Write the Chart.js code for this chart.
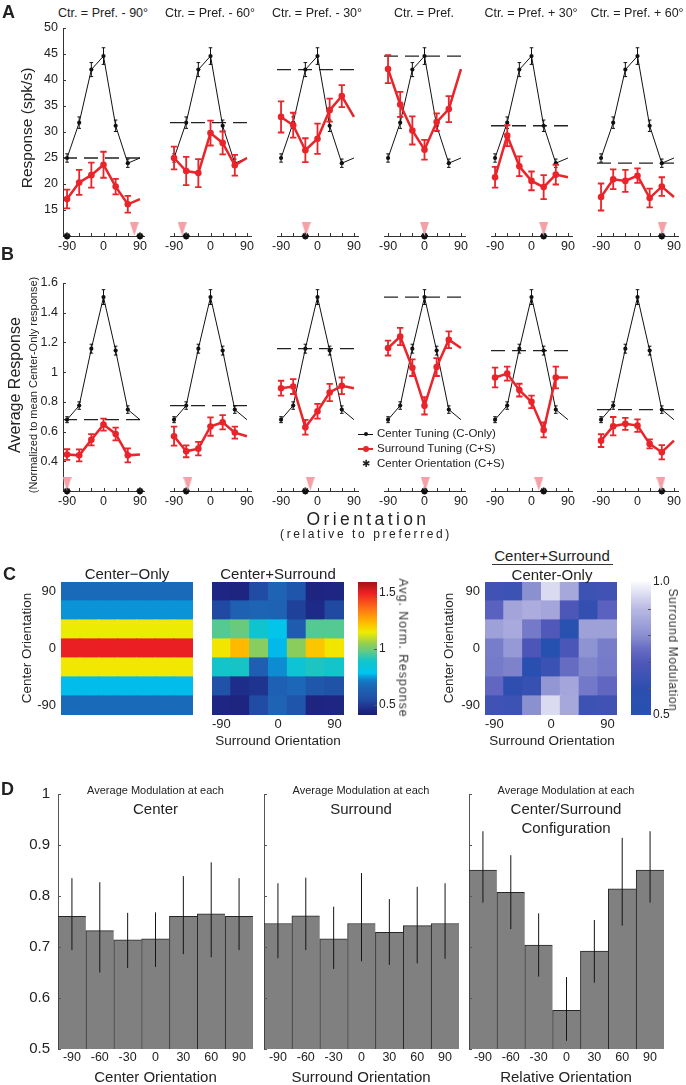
<!DOCTYPE html>
<html>
<head>
<meta charset="utf-8">
<script src="https://cdn.jsdelivr.net/npm/chart.js@4.4.1/dist/chart.umd.min.js"></script>
<style>
  body { margin: 0; background: #fff; }
  #fig { position: relative; width: 686px; height: 1085px; overflow: hidden;
         font-family: "Liberation Sans", Arial, sans-serif; color: #222; }
  .box { position: absolute; }
  .t { position: absolute; white-space: nowrap; line-height: 1; }
</style>
</head>
<body>
<div id="fig"></div>
<script>
// ---- data ----
const orient = [-90, -60, -30, 0, 30, 60, 90];
const centers = [-90, -60, -30, 0, 30, 60];
const ctrTitles = ['Ctr. = Pref. - 90°', 'Ctr. = Pref. - 60°', 'Ctr. = Pref. - 30°',
                   'Ctr. = Pref.', 'Ctr. = Pref. + 30°', 'Ctr. = Pref. + 60°'];

// panel A (spk/s)
const yTicksA = [15, 20, 25, 30, 35, 40, 45, 50];
const centerA = [25, 31.8, 42, 44.6, 31.2, 24, 25];
const centerErrA = [0.8, 1.1, 1.35, 1.6, 1.1, 0.8, null];
const surroundA = [
  [17.1, 20.3, 21.7, 23.7, 19.5, 16.1, 17.1],
  [25.0, 22.5, 22.1, 29.8, 27.9, 23.6, 25.0],
  [32.9, 31.3, 26.5, 28.7, 34.2, 36.9, 32.9],
  [42.1, 35.3, 30.3, 26.6, 31.9, 34.4, 42.1],
  [21.3, 29.3, 23.4, 20.6, 19.4, 21.8, 21.3],
  [17.5, 20.9, 20.6, 21.6, 17.3, 19.5, 17.5]
];
const surroundErrA = [
  [1.8, 2.4, 2.4, 2.5, 1.5, 1.6, null],
  [2.2, 2.7, 2.7, 2.4, 2.2, 2.0, null],
  [3.0, 2.4, 2.3, 2.9, 2.2, 2.1, null],
  [2.7, 2.4, 2.7, 1.9, 1.7, 2.5, null],
  [2.0, 2.0, 1.9, 1.8, 2.3, 1.9, null],
  [2.6, 1.9, 2.1, 1.4, 1.8, 1.8, null]
];
const prefA = [76, -70, -28, 0, 30, 61];

// panel B (normalised)
const yTicksB = [0.4, 0.6, 0.8, 1, 1.2, 1.4, 1.6];
const centerB = [0.68, 0.775, 1.158, 1.505, 1.145, 0.748, 0.68];
const centerErrB = [0.02, 0.025, 0.03, 0.05, 0.03, 0.025, null];
const surroundB = [
  [0.445, 0.44, 0.545, 0.647, 0.584, 0.44, 0.445],
  [0.569, 0.467, 0.485, 0.634, 0.663, 0.593, 0.569],
  [0.892, 0.903, 0.629, 0.737, 0.863, 0.908, 0.892],
  [1.162, 1.24, 1.03, 0.773, 1.034, 1.218, 1.162],
  [0.964, 0.99, 0.879, 0.80, 0.611, 0.964, 0.964],
  [0.539, 0.636, 0.652, 0.64, 0.517, 0.461, 0.539]
];
const surroundErrB = [
  [0.036, 0.04, 0.038, 0.04, 0.043, 0.047, null],
  [0.064, 0.04, 0.045, 0.062, 0.048, 0.04, null],
  [0.05, 0.05, 0.05, 0.05, 0.058, 0.056, null],
  [0.05, 0.058, 0.056, 0.058, 0.06, 0.056, null],
  [0.067, 0.047, 0.043, 0.042, 0.05, 0.073, null],
  [0.043, 0.062, 0.04, 0.042, 0.03, 0.048, null]
];
const prefB = [-90, -56, -18, 2, 18, 58];

// panel C
const heatTicks = [-90, 0, 90];
const cbarTicks = [0.5, 1, 1.5];
const modBarTicks = [0.5, 1.0];
const modBarMinor = [0.6, 0.7, 0.8, 0.9];

// panel D
const modTicks = [0.5, 0.6, 0.7, 0.8, 0.9, 1];
const modCenter = [0.760, 0.732, 0.714, 0.716, 0.760, 0.765, 0.760];
const modCenterLo = [0.694, 0.650, 0.659, 0.661, 0.686, 0.680, 0.694];
const modCenterHi = [0.835, 0.827, 0.767, 0.768, 0.839, 0.866, 0.835];
const modSurr = [0.746, 0.761, 0.716, 0.746, 0.729, 0.742, 0.746];
const modSurrLo = [0.678, 0.694, 0.657, 0.672, 0.665, 0.668, 0.677];
const modSurrHi = [0.825, 0.836, 0.779, 0.845, 0.794, 0.818, 0.825];
const modConf = [0.851, 0.807, 0.704, 0.576, 0.692, 0.814, 0.851];
const modConfLo = [0.787, 0.735, 0.642, 0.516, 0.630, 0.742, 0.787];
const modConfHi = [0.927, 0.880, 0.766, 0.641, 0.753, 0.914, 0.927];

// ---- styles ----
const RED = '#e9242a';
const PINK = '#f4a0a6';
const subCx = [103, 210, 317, 424, 531, 637];
const fig = document.getElementById('fig');

Chart.defaults.font.family = '"Liberation Sans", Arial, sans-serif';
Chart.defaults.color = '#222';
Chart.defaults.animation = false;
Chart.defaults.plugins.legend.display = false;
Chart.defaults.plugins.tooltip.enabled = false;

// jet-like map, as printed
const jetStops = [[0.41, [28, 30, 118]], [0.46, [30, 42, 135]], [0.55, [32, 78, 165]],
  [0.65, [30, 100, 180]], [0.70, [22, 112, 190]], [0.75, [10, 150, 216]], [0.78, [0, 196, 240]],
  [0.90, [20, 196, 200]], [0.97, [90, 201, 140]], [1.05, [150, 206, 80]], [1.15, [240, 236, 0]],
  [1.24, [255, 185, 0]], [1.35, [255, 120, 20]], [1.50, [238, 32, 36]], [1.60, [160, 20, 20]]];
const blueStops = [[0.5, [38, 82, 176]], [0.6, [45, 78, 176]], [0.7, [80, 88, 185]],
  [0.75, [105, 110, 196]], [0.8, [138, 143, 208]], [0.9, [185, 185, 228]], [1.0, [250, 250, 253]]];

function mapper(stops) {
  return v => {
    if (v <= stops[0][0]) return `rgb(${stops[0][1]})`;
    for (let i = 1; i < stops.length; i++) {
      if (v <= stops[i][0]) {
        const [a, ca] = stops[i - 1], [b, cb] = stops[i];
        const f = (v - a) / (b - a);
        return 'rgb(' + ca.map((c, j) => Math.round(c + (cb[j] - c) * f)).join(',') + ')';
      }
    }
    return `rgb(${stops[stops.length - 1][1]})`;
  };
}
const jet = mapper(jetStops);
const blues = mapper(blueStops);

// ---- plugins ----
const errorBars = {
  id: 'errorBars',
  afterDatasetDraw(chart, args) {
    const ds = chart.data.datasets[args.index];
    if (!ds.errLo) return;
    const ctx = chart.ctx, ys = chart.scales.y, cap = ds.errCap || 0;
    ctx.save();
    ctx.strokeStyle = ds.errColor || ds.borderColor;
    ctx.lineWidth = ds.errWidth || 1;
    args.meta.data.forEach((el, i) => {
      if (ds.errLo[i] == null) return;
      const y1 = ys.getPixelForValue(ds.errLo[i]), y2 = ys.getPixelForValue(ds.errHi[i]);
      ctx.beginPath();
      ctx.moveTo(el.x, y1); ctx.lineTo(el.x, y2);
      if (cap) {
        ctx.moveTo(el.x - cap, y1); ctx.lineTo(el.x + cap, y1);
        ctx.moveTo(el.x - cap, y2); ctx.lineTo(el.x + cap, y2);
      }
      ctx.stroke();
    });
    ctx.restore();
  }
};

// MATLAB style inward ticks; settings kept per canvas
const tickSpecs = new Map();
const inTicks = {
  id: 'inTicks',
  afterDraw(chart) {
    const specs = tickSpecs.get(chart.canvas);
    if (!specs) return;
    const { ctx, chartArea: a } = chart;
    specs.forEach(ax => {
      const s = chart.scales[ax.id];
      const at = ax.at ? ax.at : s.ticks.map(t => t.value);
      ctx.save();
      ctx.strokeStyle = ax.color || '#333';
      ctx.lineWidth = 1;
      ctx.beginPath();
      at.forEach(v => {
        const p = Math.round(s.getPixelForValue(v)) + 0.5;
        if (s.isHorizontal()) {
          ctx.moveTo(p, a.bottom); ctx.lineTo(p, a.bottom - ax.len);
        } else if (ax.right) {
          ctx.moveTo(a.right, p); ctx.lineTo(a.right - ax.len, p);
        } else {
          ctx.moveTo(a.left, p); ctx.lineTo(a.left + ax.len, p);
        }
      });
      ctx.stroke();
      ctx.restore();
    });
  }
};
Chart.register(errorBars, inTicks);

// ---- helpers ----
function mkChart(l, t, w, h, yw, xh, cfg, ticks, yRight) {
  const pl = 16, pr = 16, pt = 8, pb = 8;
  const W = pl + yw + w + pr, H = pt + h + xh + pb;
  const div = document.createElement('div');
  div.className = 'box';
  div.style.left = (yRight ? l - pl : l - yw - pl) + 'px';
  div.style.top = (t - pt) + 'px';
  const cv = document.createElement('canvas');
  cv.width = W; cv.height = H;
  div.appendChild(cv);
  fig.appendChild(div);
  if (ticks) tickSpecs.set(cv, ticks);
  const o = cfg.options;
  o.responsive = false;
  o.layout = { padding: { left: pl, right: pr, top: pt, bottom: pb } };
  o.scales.x.afterFit = s => { s.height = xh; s.paddingLeft = 0; s.paddingRight = 0; };
  o.scales.y.afterFit = s => { s.width = yw; s.paddingTop = 0; s.paddingBottom = 0; };
  return new Chart(cv, cfg);
}

function txt(s, x, y, size, o = {}) {
  const d = document.createElement('div');
  d.className = 't';
  d.textContent = s;
  d.style.left = x + 'px';
  d.style.top = y + 'px';
  d.style.fontSize = size + 'px';
  if (o.bold) d.style.fontWeight = 'bold';
  if (o.ls) d.style.letterSpacing = o.ls + 'px';
  if (o.color) d.style.color = o.color;
  if (!o.tl) d.style.transform = 'translate(-50%,-50%)' + (o.rot ? ` rotate(${o.rot}deg)` : '');
  fig.appendChild(d);
  return d;
}

function rect(l, t, w, h, bg, round) {
  const d = document.createElement('div');
  Object.assign(d.style, { position: 'absolute', left: l + 'px', top: t + 'px', width: w + 'px',
    height: h + 'px', background: bg, borderRadius: round ? '50%' : '0' });
  fig.appendChild(d);
}

// pink down-pointing marker, tip at image centre
const triImg = document.createElement('canvas');
triImg.width = 9; triImg.height = 28;
(() => {
  const c = triImg.getContext('2d');
  c.fillStyle = PINK;
  c.beginPath(); c.moveTo(0, 0); c.lineTo(9, 0); c.lineTo(4.5, 14); c.closePath(); c.fill();
})();

const lo = (ys, es) => ys.map((v, i) => es[i] == null ? null : v - es[i]);
const hi = (ys, es) => ys.map((v, i) => es[i] == null ? null : v + es[i]);
const pts = ys => orient.map((x, i) => ({ x, y: ys[i] }));

function tuningChart(k, P) {
  const c = centers[k];
  const yw = k === 0 ? 40 : 0;
  const datasets = [
    { data: [{ x: P.pref[k], y: P.ymin }], pointStyle: triImg, pointRadius: 7, clip: false },
    { data: (c === -90 ? [-90, 90] : [c]).map(x => ({ x, y: P.ymin })), pointStyle: 'star',
      pointRadius: 3.5, borderColor: '#111', backgroundColor: '#111', borderWidth: 1.8, clip: false },
    { data: pts(P.surround[k]), showLine: true, borderColor: RED, backgroundColor: RED, borderWidth: 2.5,
      pointRadius: orient.map((x, i) => (i < 6 ? 3.3 : 0)), pointBorderWidth: 0,
      errLo: lo(P.surround[k], P.surroundErr[k]), errHi: hi(P.surround[k], P.surroundErr[k]),
      errCap: 3.2, errWidth: 1.8 },
    { data: pts(P.center), showLine: true, borderColor: '#111', backgroundColor: '#111', borderWidth: 1,
      pointRadius: orient.map((x, i) => (i < 6 ? 2.1 : 0)), pointBorderWidth: 0,
      errLo: lo(P.center, P.centerErr), errHi: hi(P.center, P.centerErr), errCap: 1.8, errWidth: 1 },
    { data: [{ x: -100, y: P.center[k] }, { x: 100, y: P.center[k] }], showLine: true,
      borderColor: '#222', borderWidth: 1.3, borderDash: [14, 7], pointRadius: 0 }
  ];
  const axes = [{ id: 'x', len: 3 }];
  if (k === 0) axes.push({ id: 'y', len: 3 });
  mkChart(subCx[k] - 40.5, P.top, 81, 208, yw, 18, {
    type: 'scatter',
    data: { datasets },
    options: {
      scales: {
        x: { type: 'linear', min: -100, max: 100,
             afterBuildTicks: s => { s.ticks = orient.map(v => ({ value: v })); },
             ticks: { autoSkip: false, maxRotation: 0, padding: 3, font: { size: 12.5 },
                      callback: v => (v % 90 === 0 ? String(v) : '') },
             grid: { display: false, drawTicks: false }, border: { display: true, color: '#333', width: 1 } },
        y: { type: 'linear', display: k === 0, min: P.ymin, max: P.ymax,
             afterBuildTicks: s => { s.ticks = P.yticks.map(v => ({ value: v })); },
             ticks: { padding: 5, font: { size: 12.5 }, callback: P.fmt },
             grid: { display: false, drawTicks: false }, border: { display: true, color: '#333', width: 1 } }
      }
    }
  }, axes);
}

const PA = { top: 28, ymin: 10, ymax: 50, yticks: yTicksA, center: centerA, centerErr: centerErrA,
  surround: surroundA, surroundErr: surroundErrA, pref: prefA, fmt: v => String(v) };
const PB = { top: 283, ymin: 0.2, ymax: 1.6, yticks: yTicksB, center: centerB, centerErr: centerErrB,
  surround: surroundB, surroundErr: surroundErrB, pref: prefB, fmt: v => (v === 1 ? '1' : v.toFixed(1)) };

for (let k = 0; k < 6; k++) {
  tuningChart(k, PA);
  tuningChart(k, PB);
  txt(ctrTitles[k], subCx[k], 13, 12.5);
}

// ---- panel C ----
const csRows = orient.map((c, r) => surroundB[r % 6]);
const coRows = orient.map((c, r) => orient.map(() => centerB[r]));
const ratioRows = csRows.map((row, r) => row.map(v => v / centerB[r]));

function heatChart(l, rows, cmap, showX, showY) {
  mkChart(l, 582, 132, 133, showY ? 34 : 0, showX ? 18 : 0, {
    type: 'bar',
    data: {
      labels: orient.map(String),
      datasets: orient.map((c, r) => ({
        data: orient.map(() => [c - 15, c + 15]),
        backgroundColor: rows[r].map(cmap), borderWidth: 0, inflateAmount: 0.6,
        grouped: false, barPercentage: 1, categoryPercentage: 1
      }))
    },
    options: {
      scales: {
        x: { display: showX, ticks: { autoSkip: false, maxRotation: 0, padding: 2, font: { size: 13 },
               callback: (v, i) => (i % 3 === 0 ? String(orient[i]) : '') },
             grid: { display: false, drawTicks: false }, border: { display: false } },
        y: { display: showY, min: -105, max: 105,
             afterBuildTicks: s => { s.ticks = heatTicks.map(v => ({ value: v })); },
             ticks: { padding: 5, font: { size: 13 } },
             grid: { display: false, drawTicks: false }, border: { display: false } }
      }
    }
  });
}

function gradient(chart, a0, a1, cmap) {
  const a = chart.chartArea;
  if (!a) return null;
  const g = chart.ctx.createLinearGradient(0, a.bottom, 0, a.top);
  for (let i = 0; i <= 48; i++) g.addColorStop(i / 48, cmap(a0 + (a1 - a0) * i / 48));
  return g;
}

function colorbar(l, w, a0, a1, cmap, ticks, fmt, minor) {
  mkChart(l, 582, w, 133, 24, 0, {
    type: 'bar',
    data: { labels: [''], datasets: [{ data: [[a0, a1]], borderWidth: 0, barPercentage: 1, categoryPercentage: 1,
      backgroundColor: ctx => gradient(ctx.chart, a0, a1, cmap) }] },
    options: {
      scales: {
        x: { display: false },
        y: { position: 'right', min: a0, max: a1,
             afterBuildTicks: s => { s.ticks = ticks.map(v => ({ value: v })); },
             ticks: { padding: 2, font: { size: 12 }, callback: fmt },
             grid: { display: false, drawTicks: false }, border: { display: false } }
      }
    }
  }, [{ id: 'y', right: true, len: 3, color: '#555', at: minor || ticks }], true);
}

heatChart(61, coRows, jet, false, true);
heatChart(212, csRows, jet, true, false);
heatChart(485, ratioRows, blues, true, true);
colorbar(358, 19, 0.41, 1.6, jet, cbarTicks, v => String(v));
colorbar(631, 20, 0.5, 1.0, blues, modBarTicks, v => v.toFixed(1), modBarMinor);

// ---- panel D ----
function modChart(l, vals, vlo, vhi, showY) {
  mkChart(l, 794, 195, 255, showY ? 44 : 0, 20, {
    type: 'bar',
    data: { labels: orient.map(String), datasets: [{
      data: vals, base: 0.5, backgroundColor: '#808080', borderColor: '#262626',
      borderWidth: { top: 1, left: 1, right: 0, bottom: 0 }, borderSkipped: false,
      barPercentage: 1, categoryPercentage: 1,
      errLo: vlo, errHi: vhi, errColor: '#151515', errWidth: 1 }] },
    options: {
      scales: {
        x: { ticks: { padding: 1, font: { size: 12.5 }, autoSkip: false, maxRotation: 0 },
             grid: { display: false, drawTicks: false }, border: { display: false } },
        y: { min: 0.5, max: 1,
             afterBuildTicks: s => { s.ticks = modTicks.map(v => ({ value: v })); },
             ticks: { display: showY, padding: 8, font: { size: 15 }, callback: v => (v === 1 ? '1' : v.toFixed(1)) },
             grid: { display: false, drawTicks: false }, border: { display: true, color: '#555', width: 1 } }
      }
    }
  }, [{ id: 'y', len: 3, color: '#555' }]);
}
modChart(58, modCenter, modCenterLo, modCenterHi, true);
modChart(264, modSurr, modSurrLo, modSurrHi, false);
modChart(469, modConf, modConfLo, modConfHi, false);

// ---- text ----
txt('A', 2, 3, 18, { bold: true, tl: true });
txt('B', 1, 245, 18, { bold: true, tl: true });
txt('C', 3, 565, 18, { bold: true, tl: true });
txt('D', 1, 780, 18, { bold: true, tl: true });

txt('Response (spk/s)', 27, 128, 15.5, { rot: -90 });
txt('Average Response', 15, 385, 16, { rot: -90 });
txt('(Normalized to mean Center-Only response)', 33, 385, 11, { rot: -90 });
txt('Orientation', 368, 520, 17.5, { ls: 3.4 });
txt('(relative to preferred)', 366, 534, 12, { ls: 2.6 });

// legend
const lg = [434, 449, 464];
rect(358, lg[0] - 0.5, 15, 1, '#111'); rect(363.5, lg[0] - 2, 4, 4, '#111', true);
rect(358, lg[1] - 1, 15, 2, RED); rect(362.5, lg[1] - 3, 6, 6, RED, true);
txt('✱', 365.5, lg[2], 10);
['Center Tuning (C-Only)', 'Surround Tuning (C+S)', 'Center Orientation (C+S)'].forEach((s, i) => {
  const d = txt(s, 377, lg[i], 11.5);
  d.style.transform = 'translateY(-50%)';
});

// panel C labels
txt('Center\u2212Only', 127, 573, 15);
txt('Center+Surround', 278, 573, 15);
txt('Center+Surround', 552, 555, 15);
rect(492, 564, 121, 1, '#333');
txt('Center-Only', 552, 574, 15);
txt('Center Orientation', 27, 648, 13.5, { rot: -90 });
txt('Center Orientation', 449, 648, 13.5, { rot: -90 });
txt('Surround Orientation', 278, 741, 13.5);
txt('Surround Orientation', 552, 741, 13.5);
txt('Avg. Norm. Response', 403, 648, 12.5, { rot: 90, ls: 0.9, color: '#333' });
txt('Surround Modulation', 673, 650, 12, { rot: 90, ls: 0.6, color: '#333' });

// panel D labels
const dCx = [155.5, 361, 566];
dCx.forEach(x => txt('Average Modulation at each', x, 790, 11));
txt('Center', dCx[0], 808, 15);
txt('Surround', dCx[1], 808, 15);
txt('Center/Surround', dCx[2], 808, 15);
txt('Configuration', dCx[2], 827, 15);
txt('Center Orientation', dCx[0], 1076, 15);
txt('Surround Orientation', dCx[1], 1076, 15);
txt('Relative Orientation', dCx[2], 1076, 15);
</script>
</body>
</html>
